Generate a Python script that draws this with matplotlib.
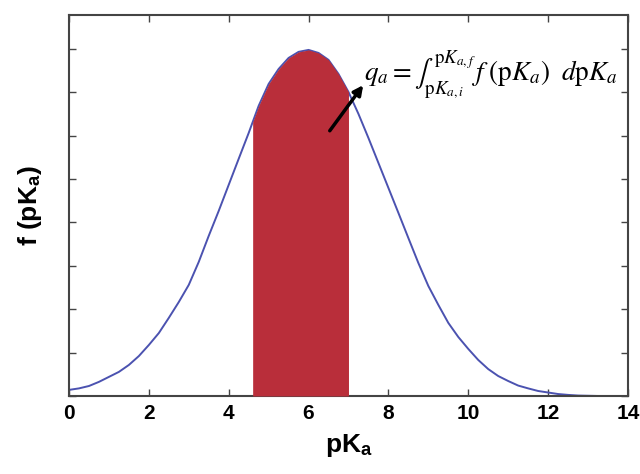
import numpy as np
import matplotlib
matplotlib.use("Agg")
import matplotlib.pyplot as plt

# Distribution (pKa grid step 0.25 from 0 to 14)
pka = np.linspace(0, 14, 57)
f_pka = [0.0028, 0.0035, 0.0046, 0.0065, 0.0088, 0.0111, 0.0143, 0.0184,
         0.0235, 0.0290, 0.0360, 0.0433, 0.0512, 0.0618, 0.0738, 0.0853,
         0.0973, 0.1093, 0.1212, 0.1337, 0.1438, 0.1507, 0.1558, 0.1586,
         0.1595, 0.1581, 0.1549, 0.1484, 0.1401, 0.1300, 0.1189, 0.1074,
         0.0959, 0.0844, 0.0728, 0.0613, 0.0507, 0.0420, 0.0337, 0.0272,
         0.0217, 0.0166, 0.0124, 0.0092, 0.0069, 0.0048, 0.0035, 0.0023,
         0.0016, 0.0009, 0.0005, 0.0002, 0.0001, 0.0, 0.0, 0.0, 0.0]
pka_i = 4.6
pka_f = 7.0
x_ticks = [0, 2, 4, 6, 8, 10, 12, 14]
y_ticks = [0, 0.02, 0.04, 0.06, 0.08, 0.10, 0.12, 0.14, 0.16]

plt.rcParams['font.family'] = ['Liberation Sans', 'DejaVu Sans']
plt.rcParams['mathtext.fontset'] = 'stix'

fig = plt.figure(figsize=(6.4, 4.74), dpi=100)
ax = fig.add_axes([0.1078, 0.1646, 0.8734, 0.8038])

x = np.asarray(pka)
y = np.array(f_pka)
ax.plot(x, y, color='#4b52b0', lw=1.4, zorder=2)

# shaded region
mask = (x > pka_i) & (x < pka_f)
xs = np.concatenate([[pka_i], x[mask], [pka_f]])
ys = np.concatenate([[np.interp(pka_i, x, y)], y[mask], [np.interp(pka_f, x, y)]])
ax.fill_between(xs, 0, ys, color='#b92e3a', lw=0, zorder=3)

ax.set_xlim(0, 14)
ax.set_ylim(0, 0.1756)
ax.set_xticks(x_ticks)
ax.set_yticks(y_ticks)
ax.set_yticklabels([])
ax.tick_params(direction='in', top=True, right=True, length=5, width=1,
               color='#444444', labelsize=15, pad=6)
for lab in ax.get_xticklabels():
    lab.set_fontweight('bold')
for s in ax.spines.values():
    s.set_color('#444444')
    s.set_linewidth(1.5)

ax.set_xlabel(r'pK$_\mathregular{a}$', fontsize=19, fontweight='bold', labelpad=6)
ax.set_ylabel(r'f (pK$_\mathregular{a}$)', fontsize=19, fontweight='bold', labelpad=12)

ax.text(7.4, 0.148,
        r'$q_a=\int_{\mathrm{p}K_{a,i}}^{\mathrm{p}K_{a,f}}\,f\;(\mathrm{p}K_a)\;\ d\mathrm{p}K_a$',
        fontsize=19.5, ha='left', va='center', zorder=5)
ax.annotate('', xy=(7.41, 0.1443), xytext=(6.49, 0.1212),
            arrowprops=dict(arrowstyle='-|>', color='black', lw=2.5,
                            mutation_scale=14), zorder=5)

fig.savefig('out.png', dpi=100)
